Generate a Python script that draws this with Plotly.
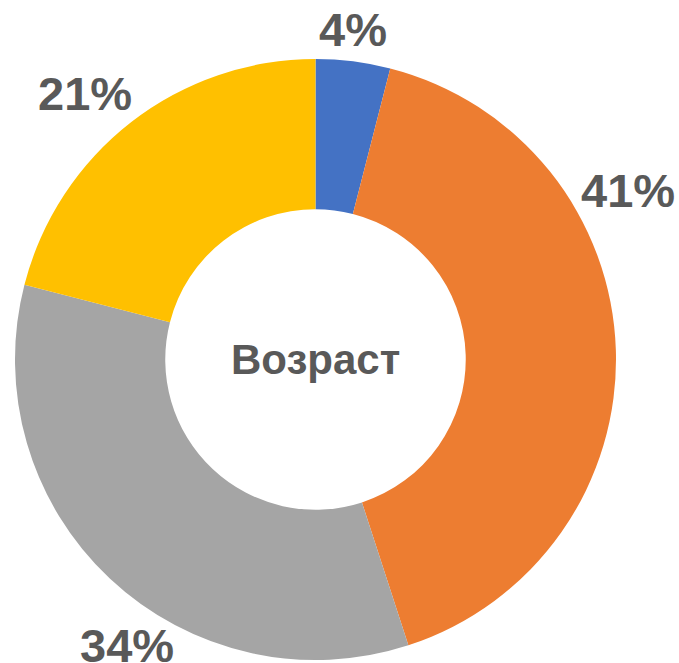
import plotly.graph_objects as go

# Data
categories = ["Группа 1", "Группа 2", "Группа 3", "Группа 4"]
values = [4, 41, 34, 21]
colors = ["#4472C4", "#ED7D31", "#A5A5A5", "#FFC000"]
center_title = "Возраст"

W, H = 679, 663
# label anchor positions in pixels (layout)
label_px = [(353, 30), (628, 190), (127, 645), (85, 94)]

fig = go.Figure(go.Pie(
    labels=categories,
    values=values,
    marker=dict(colors=colors, line=dict(width=0)),
    hole=0.5,
    sort=False,
    direction="clockwise",
    rotation=0,
    textinfo="none",
    hoverinfo="label+percent",
    domain=dict(x=[15 / W, 616 / W], y=[3 / H, 604 / H]),
))

annotations = []
for v, (px, py) in zip(values, label_px):
    annotations.append(dict(
        x=px / W, y=1 - py / H, xref="paper", yref="paper",
        text=f"<b>{v}%</b>", showarrow=False,
        xanchor="center", yanchor="middle",
        font=dict(family="Liberation Sans, Arial, sans-serif", size=47, color="#595959"),
    ))
annotations.append(dict(
    x=315.5 / W, y=1 - 359 / H, xref="paper", yref="paper",
    text=f"<b>{center_title}</b>", showarrow=False,
    xanchor="center", yanchor="middle",
    font=dict(family="Liberation Sans, Arial, sans-serif", size=42, color="#595959"),
))

fig.update_layout(
    width=W, height=H,
    margin=dict(l=0, r=0, t=0, b=0),
    paper_bgcolor="white",
    showlegend=False,
    annotations=annotations,
)

fig.write_html(
    "out.html",
    config={"displayModeBar": False},
    post_script="document.body.style.margin='0';document.body.style.overflow='hidden';",
)
